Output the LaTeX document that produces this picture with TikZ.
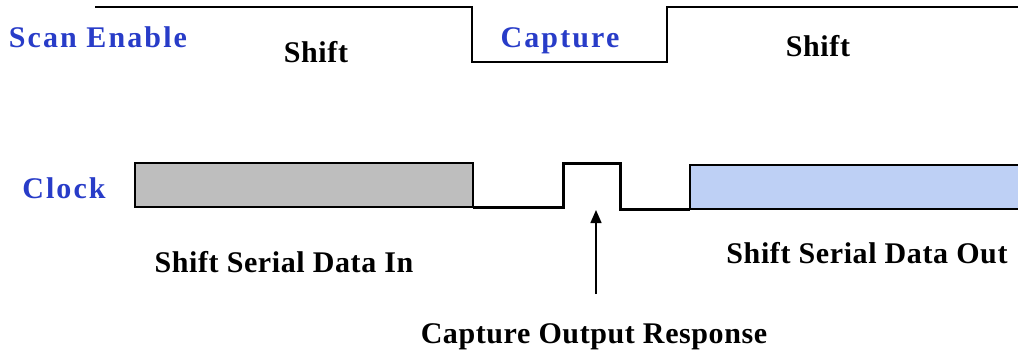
\documentclass[tikz,border=0pt]{standalone}
\usepackage{fontspec}
\setmainfont{Liberation Serif}
\newfontfamily\spacedfont[LetterSpace=7]{Liberation Serif}
\newfontfamily\looserfont[LetterSpace=2]{Liberation Serif}
\usetikzlibrary{arrows.meta}
\definecolor{sigblue}{RGB}{40,60,200}
\definecolor{shiftgray}{RGB}{190,190,190}
\definecolor{shiftblue}{RGB}{190,208,245}
\tikzset{
  lbl/.style={anchor=base,inner sep=0pt,font=\fontsize{30}{35}\looserfont\bfseries},
  sig/.style={anchor=base,inner sep=0pt,text=sigblue,font=\fontsize{30}{35}\spacedfont\bfseries},
  wave/.style={line width=2.4pt,line join=miter}
}
\begin{document}
\begin{tikzpicture}[x=1pt,y=-1pt]
  \useasboundingbox (0,0) rectangle (1018,354);
  % scan enable
  \draw[wave] (95,7) -- (472,7) -- (472,62) -- (667,62) -- (667,7) -- (1018,7);
  \node[sig] (se) at (98,47) {Scan Enable};
  \node[lbl] (sh1) at (316,62) {Shift};
  \node[sig] (cap) at (560,47) {Capture};
  \node[lbl] (sh2) at (818,56) {Shift};
  % clock
  \node[sig] (clk) at (64,198) {Clock};
  \draw[line width=2pt,fill=shiftgray] (135,163) rectangle (473,207);
  \draw[wave,line width=3pt] (473,207) -- (563,207) -- (563,163) -- (620,163) -- (620,209) -- (690,209);
  \fill[shiftblue] (690,165) rectangle (1018,209);
  \draw[line width=2pt] (1018,165) -- (690,165) -- (690,209) -- (1018,209);
  \coordinate (pulse) at (596,210);
  % labels
  \node[lbl] (sin) at (284,272) {Shift Serial Data In};
  \node[lbl] (sout) at (867,263) {Shift Serial Data Out};
  \node[lbl] (resp) at (594,343) {Capture Output Response};
  \draw[line width=1.5pt,-{Triangle[width=11pt,length=13pt]}] (596,294) -- (pulse);
\end{tikzpicture}
\end{document}
